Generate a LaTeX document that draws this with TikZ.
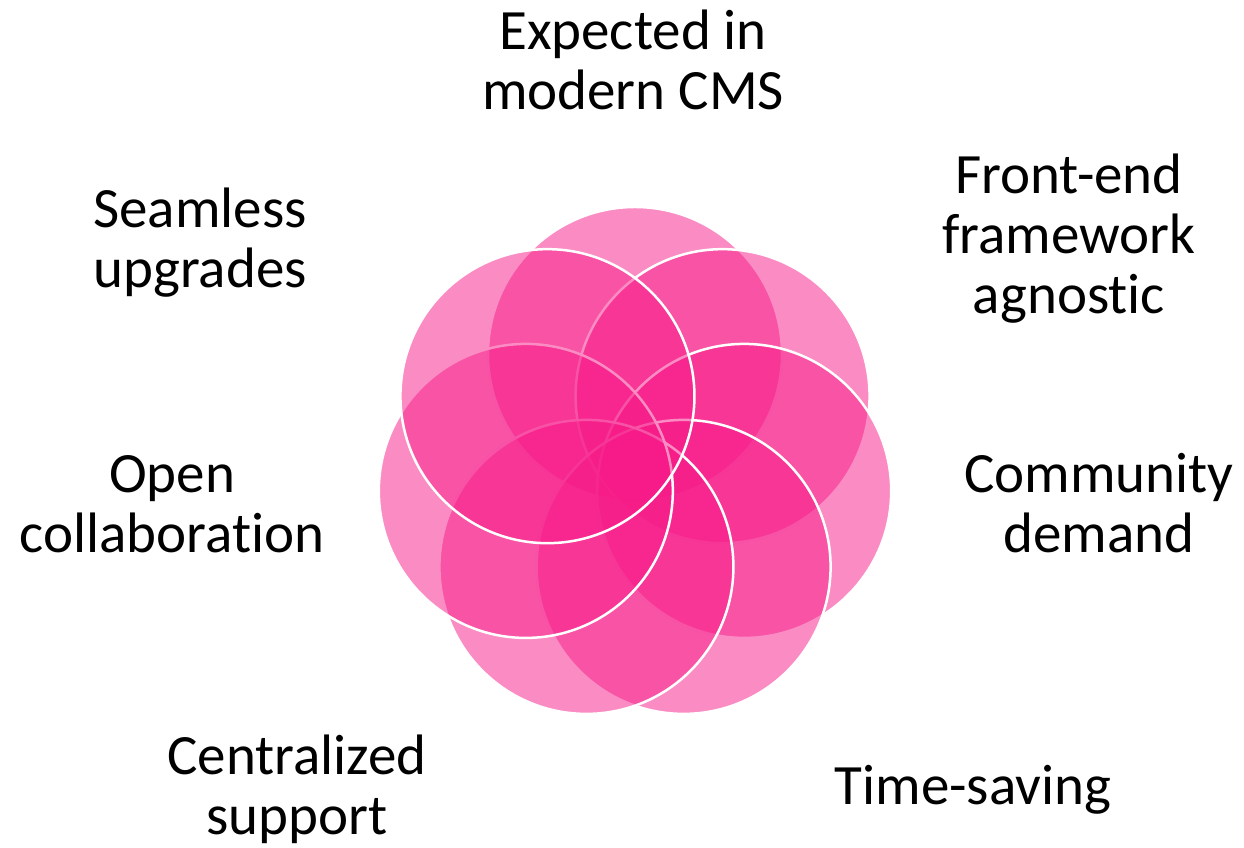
\documentclass[tikz,border=0pt]{standalone}
\usepackage{fontspec}
\setmainfont{Carlito}[Ligatures=NoCommon]
\usetikzlibrary{calc}
\definecolor{petal}{RGB}{246,26,136}
\tikzset{
  petalnode/.style={circle, minimum size=294pt, inner sep=0pt, fill=petal, fill opacity=0.5, draw=white, line width=2.5pt},
  lbl/.style={align=center, inner sep=0pt, anchor=base, font=\fontsize{57}{60}\selectfont, text=black}
}
\begin{document}
\begin{tikzpicture}[x=1pt,y=1pt]
\useasboundingbox (0,0) rectangle (1244,848);
\coordinate (C) at (635,382);
\foreach \k in {0,...,6}{
  \node[petalnode] (c\k) at ($(C)+({90-\k*360/7}:112)$) {};
}
\node[lbl] (t1) at (633,738) {Expected in\\modern CMS};
\node[lbl] (t2) at (1069,534) {Front-end\\framework\\agnostic};
\node[lbl] (t3) at (1099,295) {Community\\demand};
\node[lbl] (t4) at (973,43) {Time-saving};
\node[lbl] (t5) at (297,13) {Centralized\\support};
\node[lbl] (t6) at (172,295) {Open\\collaboration};
\node[lbl] (t7) at (200,560) {Seamless\\upgrades};
\end{tikzpicture}
\end{document}
